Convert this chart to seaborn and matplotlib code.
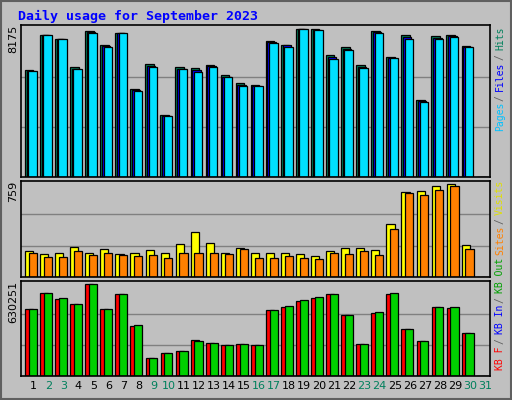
import matplotlib
matplotlib.use("Agg")
import matplotlib.pyplot as plt
import seaborn as sns
import numpy as np
from matplotlib.patches import Rectangle

sns.set_theme(style="white")
plt.rcParams['font.family'] = ['DejaVu Sans Mono']

days = list(range(1, 32))
hits  = [5918,7860,7675,6066,8082,7305,8008,4846,6251,3403,6066,6011,6196,5622,5197,5067,
         7527,7342,8175,8175,6751,7176,6177,8064,6621,7860,4254,7805,7860,7250,0]
files = [5890,7860,7650,6000,8040,7270,7980,4800,6150,3375,6000,5900,6130,5560,5100,5040,
         7460,7290,8175,8150,6630,7100,6090,8030,6590,7760,4200,7710,7800,7210,0]
pages = [5863,7860,7620,5955,8008,7231,7953,4753,6066,3348,5955,5826,6066,5511,5012,5012,
         7398,7231,8175,8120,6510,7028,6011,8008,6566,7675,4143,7620,7731,7176,0]
visits = [210,183,191,248,191,224,183,191,216,199,265,371,273,199,240,199,
          191,199,183,167,210,240,232,216,431,699,707,748,759,257,0]
sites  = [191,161,161,210,175,191,175,167,175,158,199,199,199,183,224,150,
          150,167,158,142,199,183,208,175,388,683,674,715,748,224,0]
kbf   = [457,568,529,492,630,457,561,340,120,154,168,244,223,209,216,209,
         451,471,513,534,561,416,216,430,561,320,237,471,464,292,0]
kbout = [457,568,534,492,630,457,561,347,120,154,168,237,223,209,216,209,
         451,478,520,540,561,416,216,437,568,320,237,471,471,292,0]
kbf = [v * 1000.4 for v in kbf]
kbout = [v * 1000.4 for v in kbout]
max_labels = ["8175", "759", "630251"]
weekend = {2,3,9,10,16,17,23,24,30,31}

GRAY = "#c0c0c0"
fig = plt.figure(figsize=(5.12, 4.0), dpi=100, facecolor=GRAY)
fig.add_artist(Rectangle((0.002, 0.002), 0.996, 0.996, transform=fig.transFigure,
                         fill=False, edgecolor="#606060", linewidth=1.5))

L, W = 21/512, 469/512
axes = [fig.add_axes([L, 0.558, W, 0.379]),
        fig.add_axes([L, 0.308, W, 0.239]),
        fig.add_axes([L, 0.061, W, 0.237])]

d = np.array(days, dtype=float)

def bars(ax, vals, off, color, width):
    sns.barplot(x=d + off, y=vals, native_scale=True, width=width, color=color,
                edgecolor="black", linewidth=0.9, saturation=1, ax=ax)

bars(axes[0], hits, -0.28, "#00805c", 0.56)
bars(axes[0], files, -0.17, "#0000ff", 0.56)
bars(axes[0], pages, -0.06, "#00e0ff", 0.56)
bars(axes[1], visits, -0.28, "#ffff00", 0.54)
bars(axes[1], sites, -0.03, "#ff8000", 0.54)
bars(axes[2], kbf, -0.28, "#ff0000", 0.54)
bars(axes[2], kbout, -0.03, "#00d000", 0.54)

maxes = [8175, 759, 630251]
tops = [8175*151.7/147.4, 759*95.7/92.7, 630251*94.7/91.4]
for ax, m, t in zip(axes, maxes, tops):
    ax.set_facecolor(GRAY)
    ax.set_xlim(0.18, 31.33)
    ax.set_ylim(0, t)
    for g in (m*0.335, m*0.675):
        ax.axhline(g, color="#808080", linewidth=1, zorder=0)
    ax.set_xticks([]); ax.set_yticks([])
    ax.set_xlabel(""); ax.set_ylabel("")
    for s in ax.spines.values():
        s.set_color("black"); s.set_linewidth(1.2)

fig.text(18/512, 1-16/400, "Daily usage for September 2023", color="#0000ff",
         fontsize=9.5, fontweight="bold", va="center", ha="left")

ytops = [25, 181, 281]
for lab, yt in zip(max_labels, ytops):
    fig.text(13/512, 1-yt/400, lab, rotation=90, va="top", ha="center",
             fontsize=8, color="black", family="DejaVu Sans")

for i in days:
    x = (33.3 + (i-1)*15.06)/512
    fig.text(x, 1-386/400, str(i), ha="center", va="center", fontsize=8,
             color="#00805c" if i in weekend else "black", family="DejaVu Sans")

legend = [("Hits", "#00805c", 27), ("/", "#606060", 54), ("Files", "#0000ff", 62),
          ("/", "#606060", 95), ("Pages", "#00c0ff", 102),
          ("Visits", "#e0e000", 180), ("/", "#606060", 218), ("Sites", "#ff8000", 226),
          ("KB Out", "#00a000", 258), ("/", "#606060", 297), ("KB In", "#0000ff", 305),
          ("/", "#606060", 338), ("KB F", "#ff0000", 346)]
for txt, c, yt in legend:
    fig.text(500/512, 1-yt/400, txt, rotation=90, va="top", ha="center",
             fontsize=7, color=c)

fig.savefig("out.png", dpi=100, facecolor=GRAY)
